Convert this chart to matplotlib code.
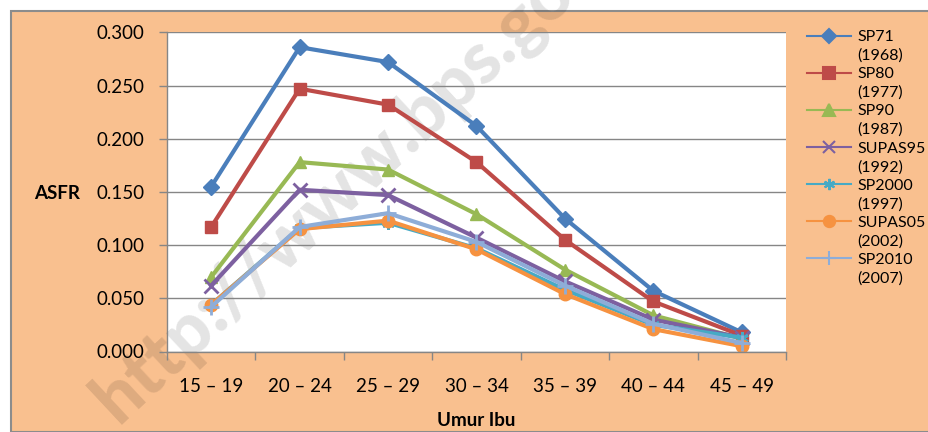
import matplotlib
matplotlib.use("Agg")
import matplotlib.pyplot as plt
from matplotlib.lines import Line2D
from matplotlib.patches import Rectangle

categories = ["15 – 19", "20 – 24", "25 – 29", "30 – 34", "35 – 39", "40 – 44", "45 – 49"]
series_names = ["SP71", "SP80", "SP90", "SUPAS95", "SP2000", "SUPAS05", "SP2010"]
series_years = ["(1968)", "(1977)", "(1987)", "(1992)", "(1997)", "(2002)", "(2007)"]

sp71    = [0.155, 0.286, 0.272, 0.212, 0.125, 0.057, 0.018]
sp80    = [0.117, 0.247, 0.232, 0.178, 0.105, 0.047, 0.015]
sp90    = [0.070, 0.178, 0.171, 0.129, 0.077, 0.034, 0.012]
supas95 = [0.062, 0.152, 0.147, 0.107, 0.066, 0.030, 0.013]
sp2000  = [0.044, 0.116, 0.121, 0.097, 0.058, 0.025, 0.013]
supas05 = [0.044, 0.115, 0.123, 0.096, 0.054, 0.021, 0.005]
sp2010  = [0.042, 0.117, 0.130, 0.103, 0.062, 0.026, 0.008]

series = [sp71, sp80, sp90, supas95, sp2000, supas05, sp2010]
line_colors = ["#4A7EBB", "#BE4B48", "#98B954", "#7D60A0", "#46AAC5", "#F69240", "#8EADD8"]
markers = ["D", "s", "^", "x", (6, 2, 0), "o", "+"]
msizes = [8, 9, 9, 10, 9, 9, 11]

plt.rcParams['font.family'] = ['Lato', 'DejaVu Sans']

fig = plt.figure(figsize=(9.29, 4.32), dpi=100)
fig.patch.set_facecolor("white")
bg = Rectangle((11/929, 0), 1, 1 - 11/432, transform=fig.transFigure,
               facecolor="#F9C08F", edgecolor="#8C8C8C", linewidth=1.5, zorder=-10)
fig.patches.append(bg)

ax = fig.add_axes([167/929, 1 - 351.5/432, (786 - 167)/929, (351.5 - 32.3)/432])
ax.patch.set_visible(False)
ax.set_zorder(0)
plot_bg = Rectangle((0, 0), 1, 1, transform=ax.transAxes, facecolor="white",
                    edgecolor="none", zorder=-9)
fig.patches.append(plot_bg)

# watermark behind the data (cut off at the top edge, as in the reference)
fig.text(118/929, 1 - 425/432, "http://www.bps.go.id", fontsize=52, fontweight="black",
         color="black", alpha=0.11, rotation=43, rotation_mode="anchor",
         ha="left", va="baseline", zorder=-5)

x = list(range(len(categories)))
for vals, c, m, ms in zip(series, line_colors, markers, msizes):
    ax.plot(x, vals, color=c, lw=3, marker=m, markersize=ms,
            markeredgewidth=2 if m in ("x", "+") or isinstance(m, tuple) else 1,
            markerfacecolor=c, markeredgecolor=c, solid_joinstyle="round")

ax.set_xlim(-0.5, len(categories) - 0.5)
ax.set_ylim(0, 0.3)
yt = [0, 0.05, 0.10, 0.15, 0.20, 0.25, 0.30]
ax.set_yticks(yt)
ax.set_yticklabels([f"{v:.3f}" for v in yt])
ax.set_xticks(x)
ax.set_xticklabels(categories)
ax.set_xticks([i - 0.5 for i in range(len(categories) + 1)], minor=True)
ax.tick_params(axis="x", which="major", length=0, pad=19, labelsize=13.5)
ax.tick_params(axis="x", which="minor", length=6, color="#868686", width=1)
ax.tick_params(axis="y", which="major", length=6, color="#868686", width=1, pad=10, labelsize=13.5)
ax.yaxis.grid(True, color="#868686", lw=1)
ax.set_axisbelow(True)
for s in ["top", "right"]:
    ax.spines[s].set_visible(False)
for s in ["left", "bottom"]:
    ax.spines[s].set_color("#868686")
    ax.spines[s].set_linewidth(1)

fig.text(57/929, 1 - 193/432, "ASFR", fontsize=13.5, fontweight="bold", ha="center", va="center")
fig.text(476/929, 1 - 421/432, "Umur Ibu", fontsize=13.5, fontweight="bold", ha="center", va="center")

handles, labels = [], []
for c, m, ms, n, yr in zip(line_colors, markers, msizes, series_names, series_years):
    handles.append(Line2D([0], [0], color=c, lw=1.5, marker=m, markersize=ms * 0.9,
                          markeredgewidth=1.5, markerfacecolor=c, markeredgecolor=c))
    labels.append(n)
    handles.append(Line2D([0], [0], color="none", lw=0))
    labels.append(yr)
leg = fig.legend(handles, labels, loc="upper left", bbox_to_anchor=(807/929, 1 - 30/432),
                 frameon=False, fontsize=11.5, labelspacing=0.27, handlelength=2.75,
                 handleheight=0.7, handletextpad=0.4, borderpad=0, borderaxespad=0)

fig.savefig("out.png", dpi=100)
